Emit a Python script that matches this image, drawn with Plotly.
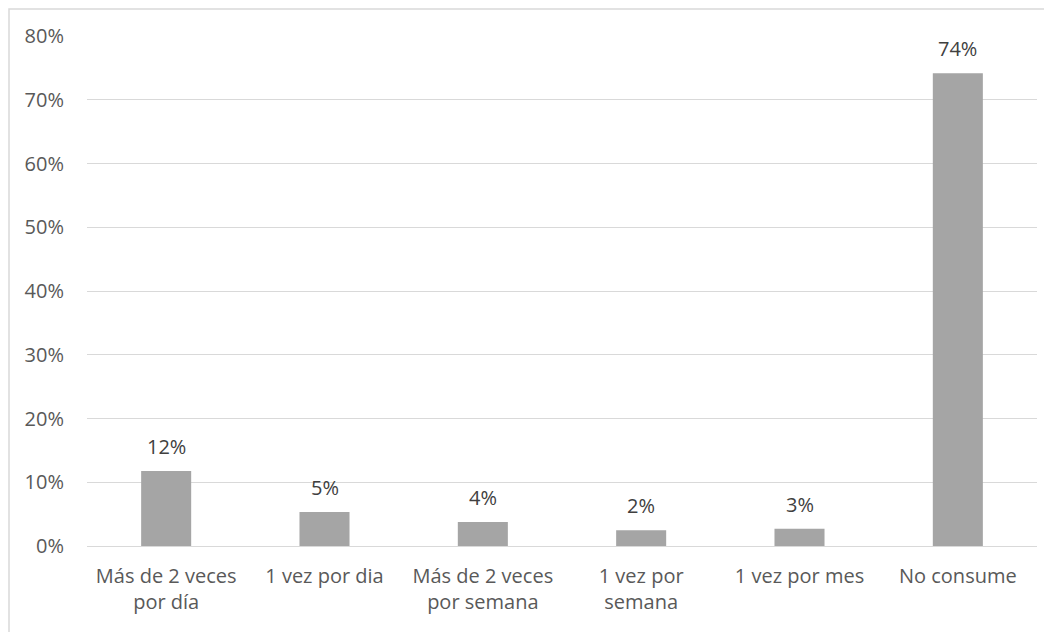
import plotly.graph_objects as go

categories = ["Más de 2 veces<br>por día", "1 vez por dia", "Más de 2 veces<br>por semana",
              "1 vez por<br>semana", "1 vez por mes", "No consume"]
values = [0.1176, 0.0533, 0.0376, 0.0246, 0.0272, 0.7415]
labels = ["12%", "5%", "4%", "2%", "3%", "74%"]
y_ticks = [0, 0.1, 0.2, 0.3, 0.4, 0.5, 0.6, 0.7, 0.8]
y_ticktext = ["0%", "10%", "20%", "30%", "40%", "50%", "60%", "70%", "80%"]

FONT = "Open Sans"
FS = 20
OFF = 8  # page body margin
W, H = 1052 - OFF, 632 - OFF
ml, mr, mt, mb = 87 - OFF, 15, 36 - OFF, 86

fig = go.Figure()
fig.add_trace(go.Bar(x=categories, y=values, marker=dict(color="#a5a5a5", line=dict(width=0)),
                     width=0.316, hoverinfo="skip"))

for c, v, t in zip(categories, values, labels):
    fig.add_annotation(x=c, y=v, text=t, showarrow=False, yanchor="bottom", yshift=9,
                       font=dict(family=FONT, size=FS, color="#404040"))

pw = W - ml - mr
ph = H - mt - mb
fig.add_shape(type="rect", xref="paper", yref="paper",
              x0=(1 - ml) / pw, x1=(W + 20 - ml) / pw,
              y0=1 - (H + 20 - mt) / ph, y1=1 - (1 - mt) / ph,
              line=dict(color="#d9d9d9", width=1.5), fillcolor="rgba(0,0,0,0)", layer="below")

fig.update_layout(
    width=W, height=H,
    margin=dict(l=ml, r=mr, t=mt, b=mb),
    plot_bgcolor="white", paper_bgcolor="white",
    showlegend=False,
    font=dict(family=FONT, size=FS, color="#595959"),
    xaxis=dict(showgrid=False, showline=False, zeroline=False, ticks="",
               tickfont=dict(family=FONT, size=FS, color="#595959"),
               ticklabelstandoff=16, fixedrange=True),
    yaxis=dict(range=[0, 0.8], tickvals=y_ticks, ticktext=y_ticktext,
               showgrid=True, gridcolor="#d9d9d9", gridwidth=1.3,
               zeroline=True, zerolinecolor="#d9d9d9", zerolinewidth=1.3,
               showline=False, ticks="",
               tickfont=dict(family=FONT, size=FS, color="#595959"),
               ticklabelstandoff=22, fixedrange=True),
)

fig.write_html("out.html")
